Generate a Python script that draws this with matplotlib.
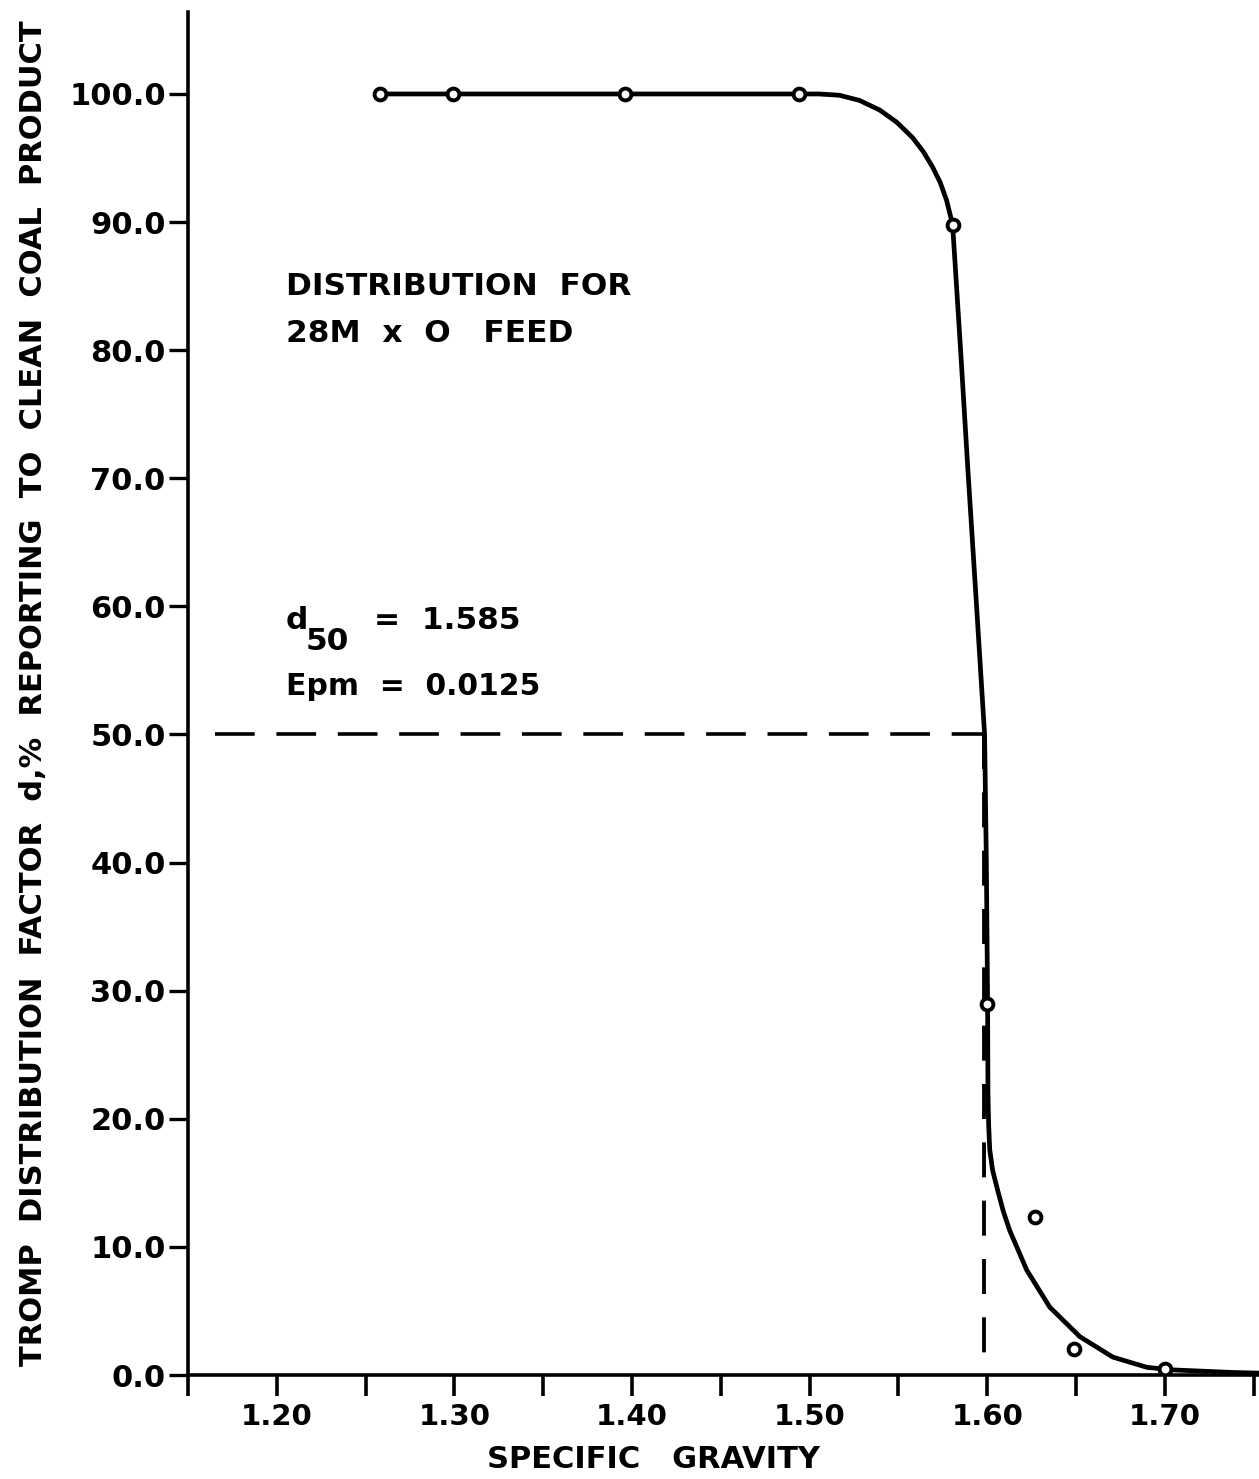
import matplotlib.pyplot as plt

plt.rcParams['font.family'] = ['DejaVu Sans']
plt.rcParams['font.weight'] = 'bold'

# measured points
sg_pts = [1.258, 1.299, 1.396, 1.494, 1.5805, 1.600, 1.627, 1.649, 1.700]
d_pts = [100.0, 100.0, 100.0, 100.0, 89.8, 29.0, 12.3, 2.0, 0.5]

# hand drawn curve
sg_curve = [1.258, 1.35, 1.45, 1.494, 1.505, 1.5168, 1.528, 1.5394, 1.549, 1.5579,
            1.564, 1.5692, 1.5735, 1.5771, 1.5805, 1.585, 1.589, 1.594, 1.5985,
            1.5995, 1.6002, 1.6004, 1.6008, 1.6014, 1.603, 1.6059, 1.609, 1.6126,
            1.6222, 1.6352, 1.6521, 1.6707, 1.6899, 1.7045, 1.7383, 1.753]
d_curve = [100.0, 100.0, 100.0, 100.0, 100.0, 99.9, 99.5, 98.75, 97.8, 96.6,
           95.5, 94.3, 93.1, 91.7, 89.8, 80.0, 70.9, 60.0, 50.0,
           40.0, 29.0, 22.0, 19.5, 17.6, 16.0, 14.4, 12.8, 11.3,
           8.2, 5.3, 3.0, 1.4, 0.6, 0.4, 0.2, 0.15]

d50_x = 1.598
d50_y = 50.0

yticks = [0, 10, 20, 30, 40, 50, 60, 70, 80, 90, 100]
ytick_labels = ['0.0', '10.0', '20.0', '30.0', '40.0', '50.0', '60.0', '70.0', '80.0', '90.0', '100.0']
xticks = [1.15, 1.20, 1.25, 1.30, 1.35, 1.40, 1.45, 1.50, 1.55, 1.60, 1.65, 1.70, 1.75]
xtick_labels = ['', '1.20', '', '1.30', '', '1.40', '', '1.50', '', '1.60', '', '1.70', '']

fig = plt.figure(figsize=(12.59, 14.79), dpi=100)
ax = fig.add_axes([0.1493, 0.0703, 0.8507, 0.9216])

ax.plot(sg_curve, d_curve, color='black', lw=3.4, solid_capstyle='round',
        solid_joinstyle='round', zorder=3)
ax.plot(sg_pts, d_pts, 'o', ms=8.5, mfc='white', mec='black', mew=2.8, zorder=4)

ax.plot([1.1652, d50_x], [d50_y, d50_y], color='black', lw=2.6, linestyle=(0, (11, 6)), zorder=2)
ax.plot([d50_x, d50_x], [d50_y, 0], color='black', lw=2.8, linestyle=(0, (9, 6)), zorder=2)

ax.set_xlim(1.15, 1.753)
ax.set_ylim(0, 106.4)
for s in ['top', 'right']:
    ax.spines[s].set_visible(False)
for s in ['left', 'bottom']:
    ax.spines[s].set_linewidth(2.6)

ax.set_xticks(xticks)
ax.set_xticklabels(xtick_labels, fontsize=21, fontweight='bold')
ax.set_yticks(yticks)
ax.set_yticklabels(ytick_labels, fontsize=22, fontweight='bold')
ax.tick_params(axis='x', direction='out', length=15, width=2.6, pad=5)
ax.tick_params(axis='y', direction='out', length=14, width=2.4, pad=2)

ax.set_xlabel('SPECIFIC   GRAVITY', fontsize=22, fontweight='bold')
ax.xaxis.set_label_coords(0.435, -0.051)
ax.set_ylabel('TROMP  DISTRIBUTION  FACTOR  d,%  REPORTING  TO  CLEAN  COAL  PRODUCT',
              fontsize=22, fontweight='bold')
ax.yaxis.set_label_coords(-0.131, 0.5)

tkw = dict(fontsize=22.5, fontweight='bold', va='baseline', ha='left')
ax.text(1.205, 84.3, 'DISTRIBUTION  FOR', **tkw)
ax.text(1.205, 80.6, '28M  x  O   FEED', **tkw)
ax.text(1.205, 58.2, 'd', **tkw)
ax.text(1.2165, 56.6, '50', **tkw)
ax.text(1.2547, 58.2, '=  1.585', **tkw)
ax.text(1.205, 53.1, 'Epm  =  0.0125', fontsize=21.5, fontweight='bold', va='baseline', ha='left')

fig.savefig('out.png', dpi=100)
